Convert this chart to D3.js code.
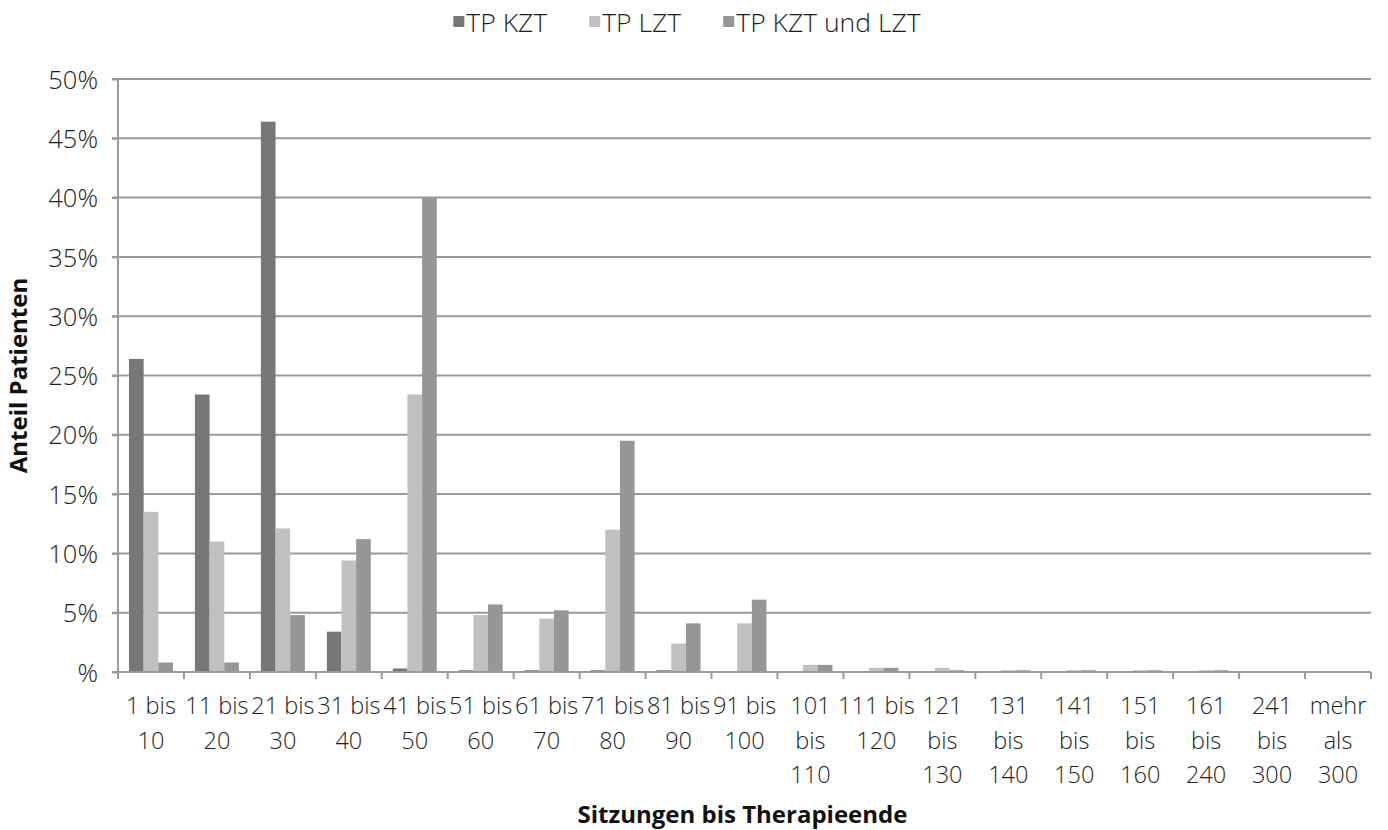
<!DOCTYPE html>
<html>
<head>
<meta charset="utf-8">
<script src="https://cdn.jsdelivr.net/npm/d3@7/dist/d3.min.js"></script>
<style>
  html, body { margin: 0; padding: 0; background: #fff; }
  svg { display: block; }
  .tick-label { font-family: "Open Sans", Lato, sans-serif; font-weight: 300; font-size: 23.5px; fill: #1e1e1e; }
  .y-label { font-size: 25.5px; }
  .legend-label { font-size: 26.5px; }
  .axis-title { font-family: "Open Sans", Lato, sans-serif; font-weight: 700; font-size: 24px; fill: #111; }
</style>
</head>
<body>
<svg id="chart" width="1388" height="830"></svg>
<script>
// Category labels (one entry per wrapped line) and share of patients in percent
const categories = [
  "1 bis 10", "11 bis 20", "21 bis 30", "31 bis 40", "41 bis 50", "51 bis 60",
  "61 bis 70", "71 bis 80", "81 bis 90", "91 bis 100", "101 bis 110", "111 bis 120",
  "121 bis 130", "131 bis 140", "141 bis 150", "151 bis 160", "161 bis 240",
  "241 bis 300", "mehr als 300"
];
const categoryLines = [
  ["1 bis", "10"], ["11 bis", "20"], ["21 bis", "30"], ["31 bis", "40"], ["41 bis", "50"],
  ["51 bis", "60"], ["61 bis", "70"], ["71 bis", "80"], ["81 bis", "90"], ["91 bis", "100"],
  ["101", "bis", "110"], ["111 bis", "120"], ["121", "bis", "130"], ["131", "bis", "140"],
  ["141", "bis", "150"], ["151", "bis", "160"], ["161", "bis", "240"], ["241", "bis", "300"],
  ["mehr", "als", "300"]
];
const seriesNames = ["TP KZT", "TP LZT", "TP KZT und LZT"];
const tpKZT = [26.4, 23.4, 46.4, 3.4, 0.3, 0.15, 0.15, 0.15, 0.15, 0, 0, 0, 0, 0, 0, 0, 0, 0, 0];
const tpLZT = [13.5, 11.0, 12.1, 9.4, 23.4, 4.8, 4.5, 12.0, 2.4, 4.1, 0.6, 0.35, 0.35, 0.15, 0.15, 0.15, 0.15, 0, 0];
const tpKZTundLZT = [0.8, 0.8, 4.8, 11.2, 40.0, 5.7, 5.2, 19.5, 4.1, 6.1, 0.6, 0.35, 0.15, 0.15, 0.15, 0.15, 0.15, 0, 0];
const yTicks = [0, 5, 10, 15, 20, 25, 30, 35, 40, 45, 50];
const yTickLabels = ["%", "5%", "10%", "15%", "20%", "25%", "30%", "35%", "40%", "45%", "50%"];
const xTitle = "Sitzungen bis Therapieende";
const yTitle = "Anteil Patienten";

const seriesValues = [tpKZT, tpLZT, tpKZTundLZT];
const colors = ["#777777", "#c0c0c0", "#969696"];

const svg = d3.select("#chart");
const plot = { left: 118, right: 1371, top: 79, bottom: 672 };
const gridColor = "#9a9a9a";

const x = d3.scaleBand().domain(categories).range([plot.left, plot.right]).paddingInner(0).paddingOuter(0);
const y = d3.scaleLinear().domain([0, 50]).range([plot.bottom, plot.top]);

// Inner band for the three bars of a category (gap of 150% of a bar width)
const barW = x.bandwidth() / 4.5;
const xs = d3.scaleBand().domain(d3.range(3)).range([0.75 * barW, 3.75 * barW]).padding(0);

// Horizontal grid lines
svg.append("g").selectAll("line").data(yTicks.filter(t => t > 0)).join("line")
  .attr("x1", plot.left - 6).attr("x2", plot.right)
  .attr("y1", d => y(d)).attr("y2", d => y(d))
  .attr("stroke", gridColor).attr("stroke-width", 2);

// Bars
const groups = svg.append("g").selectAll("g").data(categories).join("g")
  .attr("transform", d => `translate(${x(d)},0)`);
groups.selectAll("rect")
  .data((d, i) => seriesValues.map((s, k) => ({ k, v: s[i] })))
  .join("rect")
  .attr("x", d => xs(d.k))
  .attr("width", xs.bandwidth())
  .attr("y", d => y(d.v))
  .attr("height", d => y(0) - y(d.v))
  .attr("fill", d => colors[d.k]);

// Y axis
const yAxis = svg.append("g").attr("transform", `translate(${plot.left},0)`)
  .call(d3.axisLeft(y).tickValues(yTicks).tickFormat((d, i) => yTickLabels[i]).tickSize(6).tickPadding(14));
yAxis.select(".domain").attr("stroke", gridColor).attr("stroke-width", 2)
  .attr("d", `M0,${plot.top}V${plot.bottom}`);
yAxis.selectAll(".tick line").attr("stroke", gridColor).attr("stroke-width", 2);
yAxis.selectAll(".tick text").attr("class", "tick-label y-label").attr("dy", "0.36em");

// X axis with wrapped category labels
const xAxis = svg.append("g").attr("transform", `translate(0,${plot.bottom})`)
  .call(d3.axisBottom(x).tickSize(0).tickFormat(""));
xAxis.select(".domain").attr("stroke", gridColor).attr("stroke-width", 2)
  .attr("d", `M${plot.left - 6},0H${plot.right}`);
xAxis.selectAll(".tick").remove();
const boundaries = categories.map(c => x(c)).concat([plot.right]);
xAxis.append("g").selectAll("line").data(boundaries).join("line")
  .attr("x1", d => d).attr("x2", d => d).attr("y1", 0).attr("y2", 7)
  .attr("stroke", gridColor).attr("stroke-width", 2);
const labels = xAxis.append("g").selectAll("text").data(categories).join("text")
  .attr("class", "tick-label")
  .attr("text-anchor", "middle")
  .attr("transform", d => `translate(${x(d) + x.bandwidth() / 2},0)`);
labels.selectAll("tspan").data((d, i) => categoryLines[i]).join("tspan")
  .attr("x", 0).attr("y", (d, j) => 42 + j * 34.5).text(d => d);

// Axis titles
svg.append("text").attr("class", "axis-title").attr("text-anchor", "middle")
  .attr("x", (plot.left + plot.right) / 2 - 2).attr("y", 823).text(xTitle);
svg.append("text").attr("class", "axis-title").attr("text-anchor", "middle")
  .attr("transform", `translate(27,${(plot.top + plot.bottom) / 2}) rotate(-90)`).text(yTitle);

// Legend
const legend = svg.append("g");
const legendGap = 42;
let lx = 0;
seriesNames.forEach((name, k) => {
  const item = legend.append("g").attr("transform", `translate(${lx},0)`);
  item.append("rect").attr("x", 0).attr("y", 16).attr("width", 11).attr("height", 11).attr("fill", colors[k]);
  const t = item.append("text").attr("class", "tick-label legend-label").attr("x", 13).attr("y", 32).text(name);
  lx += 13 + t.node().getComputedTextLength() + legendGap;
});
const legendW = lx - legendGap;
legend.attr("transform", `translate(${687 - legendW / 2},0)`);
</script>
</body>
</html>
